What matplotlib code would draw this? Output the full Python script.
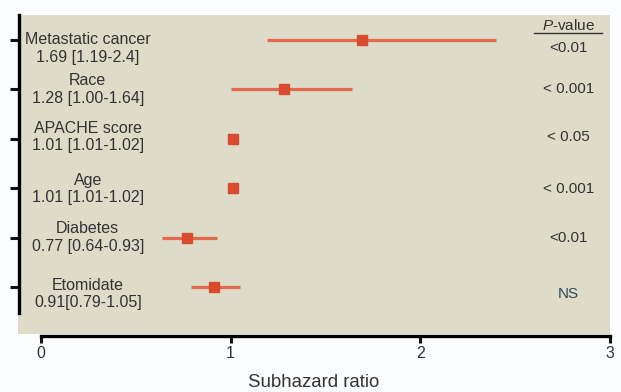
import matplotlib.pyplot as plt
from matplotlib.lines import Line2D

plt.rcParams['font.family'] = ['Liberation Sans', 'DejaVu Sans']
plt.rcParams['mathtext.fontset'] = 'custom'
plt.rcParams['mathtext.it'] = 'Liberation Sans:italic'
plt.rcParams['mathtext.rm'] = 'Liberation Sans'

# data
variables = ['Metastatic cancer', 'Race', 'APACHE score', 'Age', 'Diabetes', 'Etomidate']
ci_text = ['1.69 [1.19-2.4]', '1.28 [1.00-1.64]', '1.01 [1.01-1.02]',
           '1.01 [1.01-1.02]', '0.77 [0.64-0.93]', '0.91[0.79-1.05]']
shr = [1.69, 1.28, 1.01, 1.01, 0.77, 0.91]
ci_low = [1.19, 1.00, 1.01, 1.01, 0.64, 0.79]
ci_high = [2.40, 1.64, 1.02, 1.02, 0.93, 1.05]
p_values = ['<0.01', '< 0.001', '< 0.05', '< 0.001', '<0.01', 'NS']
x_ticks = [0, 1, 2, 3]

# small vertical nudges of the text rows (in row units), as in the original
nudge = [0.17, 0.0, -0.04, 0.01, 0.0, 0.14]

panel = '#dedbc9'
txt = '#333333'
red = '#d94a2e'
red_line = '#e26a4e'

fig = plt.figure(figsize=(6.21, 3.92), dpi=100, facecolor='#fbfcfd')
ax = fig.add_axes([18 / 621, 58 / 392, 592 / 621, 319 / 392])
ax.set_facecolor(panel)

ys = list(range(len(variables)))
for y, m, lo, hi in zip(ys, shr, ci_low, ci_high):
    ax.plot([lo, hi], [y, y], color=red_line, lw=2.3, solid_capstyle='butt', zorder=2)
    ax.plot(m, y, marker='s', ms=7, color=red, mec=red, zorder=3)

ax.set_xlim(-0.121, 3.0)
ax.set_ylim(5.95, -0.506)

# spines
for s in ['top', 'right']:
    ax.spines[s].set_visible(False)
ax.spines['left'].set_position(('data', -0.114))
ax.spines['left'].set_bounds(-0.506, 5.53)
ax.spines['left'].set_linewidth(2.4)
ax.spines['bottom'].set_position(('outward', 1.5))
ax.spines['bottom'].set_bounds(0, 3)
ax.spines['bottom'].set_linewidth(2.4)

ax.set_yticks(ys)
ax.set_yticklabels([])
ax.tick_params(axis='y', direction='out', length=6.5, width=2.2, color='#111111')
ax.set_xticks(x_ticks)
ax.set_xticklabels([str(t) for t in x_ticks])
ax.tick_params(axis='x', direction='out', length=5, width=2.2, color='#111111',
               labelsize=11.5, labelcolor=txt, pad=2.5)

ax.set_xlabel('Subhazard ratio', fontsize=13.4, color=txt, labelpad=9)

for y, dy, name, ci in zip(ys, nudge, variables, ci_text):
    ax.text(0.247, y + dy, name + '\n' + ci, ha='center', va='center',
            fontsize=11.5, color=txt, linespacing=1.2)

for y, dy, p in zip(ys, nudge, p_values):
    c = '#2e4a5c' if p == 'NS' else txt
    ax.text(2.78, y + dy, p, ha='center', va='center', fontsize=11, color=c)

ax.text(2.78, -0.30, '$\\mathit{P}$-value', ha='center', va='center',
        fontsize=11, color=txt)
ax.add_line(Line2D([2.6, 2.958], [-0.15, -0.15], color=txt, lw=1))

fig.savefig('out.png', dpi=100, facecolor=fig.get_facecolor())
